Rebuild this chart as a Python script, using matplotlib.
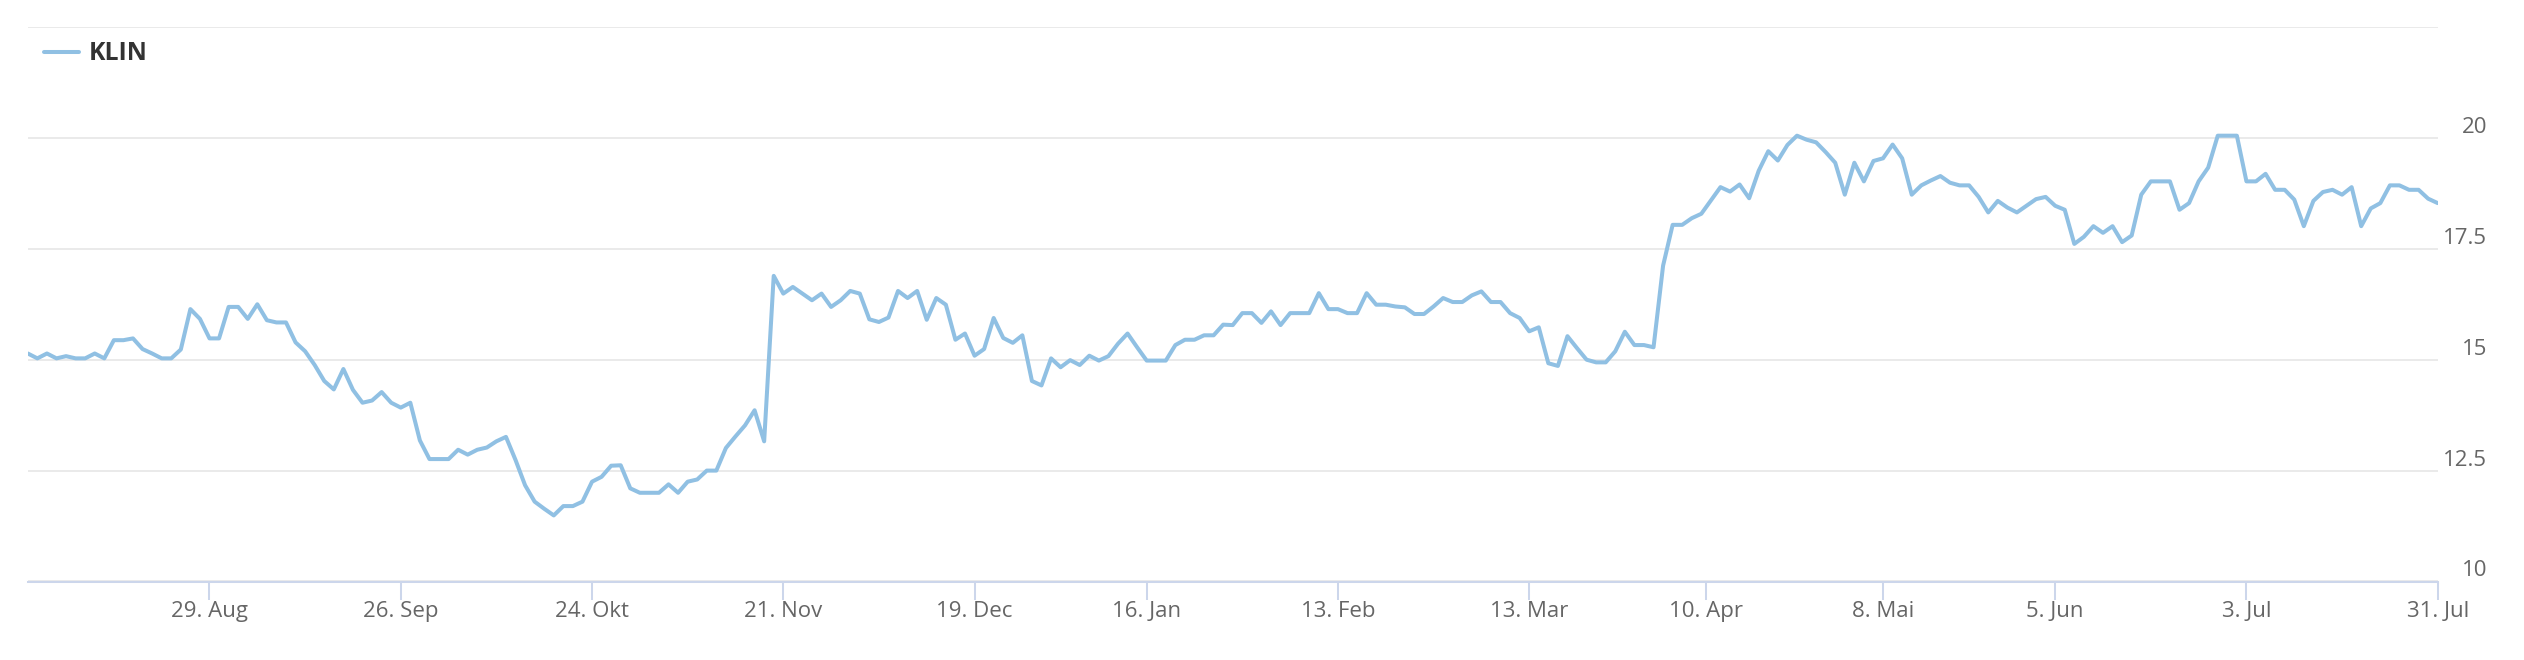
import matplotlib
matplotlib.use("Agg")
import matplotlib.pyplot as plt

plt.rcParams["font.family"] = ["Open Sans", "DejaVu Sans"]

# ---------------- data ----------------
series_name = "KLIN"

values = [
    15.14, 15.03, 15.14, 15.03, 15.08, 15.03, 15.03, 15.14, 15.03, 15.44,
    15.44, 15.48, 15.24, 15.14, 15.03, 15.03, 15.23, 16.14, 15.92, 15.48,
    15.48, 16.19, 16.19, 15.92, 16.25, 15.89, 15.84, 15.84, 15.39, 15.19,
    14.88, 14.52, 14.33, 14.79, 14.32, 14.03, 14.08, 14.27, 14.03, 13.92,
    14.03, 13.18, 12.76, 12.76, 12.76, 12.97, 12.86, 12.97, 13.02, 13.16,
    13.26, 12.74, 12.17, 11.80, 11.64, 11.49, 11.70, 11.70, 11.80, 12.25,
    12.36, 12.61, 12.62, 12.10, 12.00, 12.00, 12.00, 12.19, 12.00, 12.25,
    12.30, 12.50, 12.50, 13.01, 13.27, 13.52, 13.86, 13.16, 16.89, 16.49,
    16.64, 16.49, 16.34, 16.49, 16.19, 16.34, 16.55, 16.49, 15.91, 15.85,
    15.95, 16.55, 16.39, 16.55, 15.90, 16.39, 16.24, 15.45, 15.59, 15.09,
    15.24, 15.94, 15.49, 15.38, 15.55, 14.52, 14.42, 15.03, 14.83, 14.99,
    14.88, 15.09, 14.98, 15.08, 15.36, 15.59, 15.28, 14.98, 14.98, 14.98,
    15.33, 15.45, 15.45, 15.55, 15.55, 15.79, 15.78, 16.05, 16.05, 15.83,
    16.09, 15.78, 16.05, 16.05, 16.05, 16.50, 16.14, 16.14, 16.05, 16.05,
    16.50, 16.24, 16.24, 16.20, 16.18, 16.03, 16.03, 16.20, 16.39, 16.30,
    16.30, 16.45, 16.54, 16.30, 16.30, 16.05, 15.94, 15.64, 15.73, 14.92,
    14.86, 15.53, 15.26, 15.00, 14.94, 14.94, 15.19, 15.63, 15.33, 15.33,
    15.28, 17.12, 18.04, 18.04, 18.19, 18.29, 18.59, 18.89, 18.79, 18.95,
    18.64, 19.26, 19.70, 19.49, 19.84, 20.05, 19.96, 19.90, 19.68, 19.44,
    18.72, 19.44, 19.02, 19.48, 19.54, 19.85, 19.54, 18.72, 18.93, 19.04,
    19.14, 18.99, 18.93, 18.93, 18.67, 18.32, 18.58, 18.43, 18.32, 18.47,
    18.62, 18.67, 18.47, 18.38, 17.61, 17.77, 18.01, 17.86, 18.01, 17.65,
    17.80, 18.72, 19.02, 19.02, 19.02, 18.38, 18.53, 19.02, 19.33, 20.05,
    20.05, 20.05, 19.02, 19.02, 19.19, 18.83, 18.83, 18.61, 18.01, 18.58,
    18.78, 18.83, 18.72, 18.89, 18.01, 18.41, 18.53, 18.93, 18.93, 18.83,
    18.83, 18.63, 18.53,
]

# ordinal (trading-day) positions of the date ticks
tick_positions = [19, 39, 59, 79, 99, 117, 137, 157, 175.5, 194, 212, 232, 252]
tick_labels = ["29. Aug", "26. Sep", "24. Okt", "21. Nov", "19. Dec", "16. Jan",
               "13. Feb", "13. Mar", "10. Apr", "8. Mai", "5. Jun", "3. Jul", "31. Jul"]

y_ticks = [10, 12.5, 15, 17.5, 20, 22.5]
y_tick_labels = ["10", "12.5", "15", "17.5", "20", ""]

# ---------------- figure ----------------
W, H = 2524, 660
fig = plt.figure(figsize=(W / 100, H / 100), dpi=100)
fig.patch.set_facecolor("white")

left_px, right_px, top_px, bottom_px = 27.8, 2437.7, 27.0, 581.5
ax = fig.add_axes([left_px / W, 1 - bottom_px / H,
                   (right_px - left_px) / W, (bottom_px - top_px) / H])

line_color = "#90c0e3"
x = list(range(len(values)))
(ln,) = ax.plot(x, values, color=line_color, lw=2.9, solid_joinstyle="round",
                solid_capstyle="round", zorder=3, label=series_name)

ax.set_xlim(0, len(values) - 1)
ax.set_ylim(10, 22.5)

# grid
ax.set_yticks(y_ticks)
ax.set_yticklabels(y_tick_labels)
ax.yaxis.grid(True, color="#e6e6e6", lw=1.2, zorder=0)
ax.xaxis.grid(False)
ax.set_axisbelow(True)

for s in ["top", "left", "right"]:
    ax.spines[s].set_visible(False)
ax.spines["bottom"].set_color("#ccd6eb")
ax.spines["bottom"].set_linewidth(1.45)
ax.spines["bottom"].set_zorder(2)

# x ticks
ax.set_xticks(tick_positions)
ax.set_xticklabels(tick_labels)
ax.tick_params(axis="x", direction="out", length=13, width=1.45, color="#ccd6eb",
               pad=1, labelsize=16, labelcolor="#666666")

# y ticks on the right, right-aligned, sitting just above grid lines
ax.yaxis.tick_right()
ax.tick_params(axis="y", length=0, pad=35.5, labelsize=16, labelcolor="#666666")
for lab in ax.get_yticklabels():
    lab.set_horizontalalignment("right")
    lab.set_verticalalignment("bottom")

# legend
fig.legend(handles=[ln], labels=[series_name], loc="center left",
           bbox_to_anchor=(44 / W, 1 - 54 / H), bbox_transform=fig.transFigure,
           frameon=False, borderpad=0, borderaxespad=0, handlelength=1.43,
           handletextpad=0.36,
           prop={"family": ["Open Sans", "DejaVu Sans"], "weight": "bold", "size": 17.8},
           labelcolor="#333333")

fig.savefig("out.png", dpi=100, facecolor="white")
